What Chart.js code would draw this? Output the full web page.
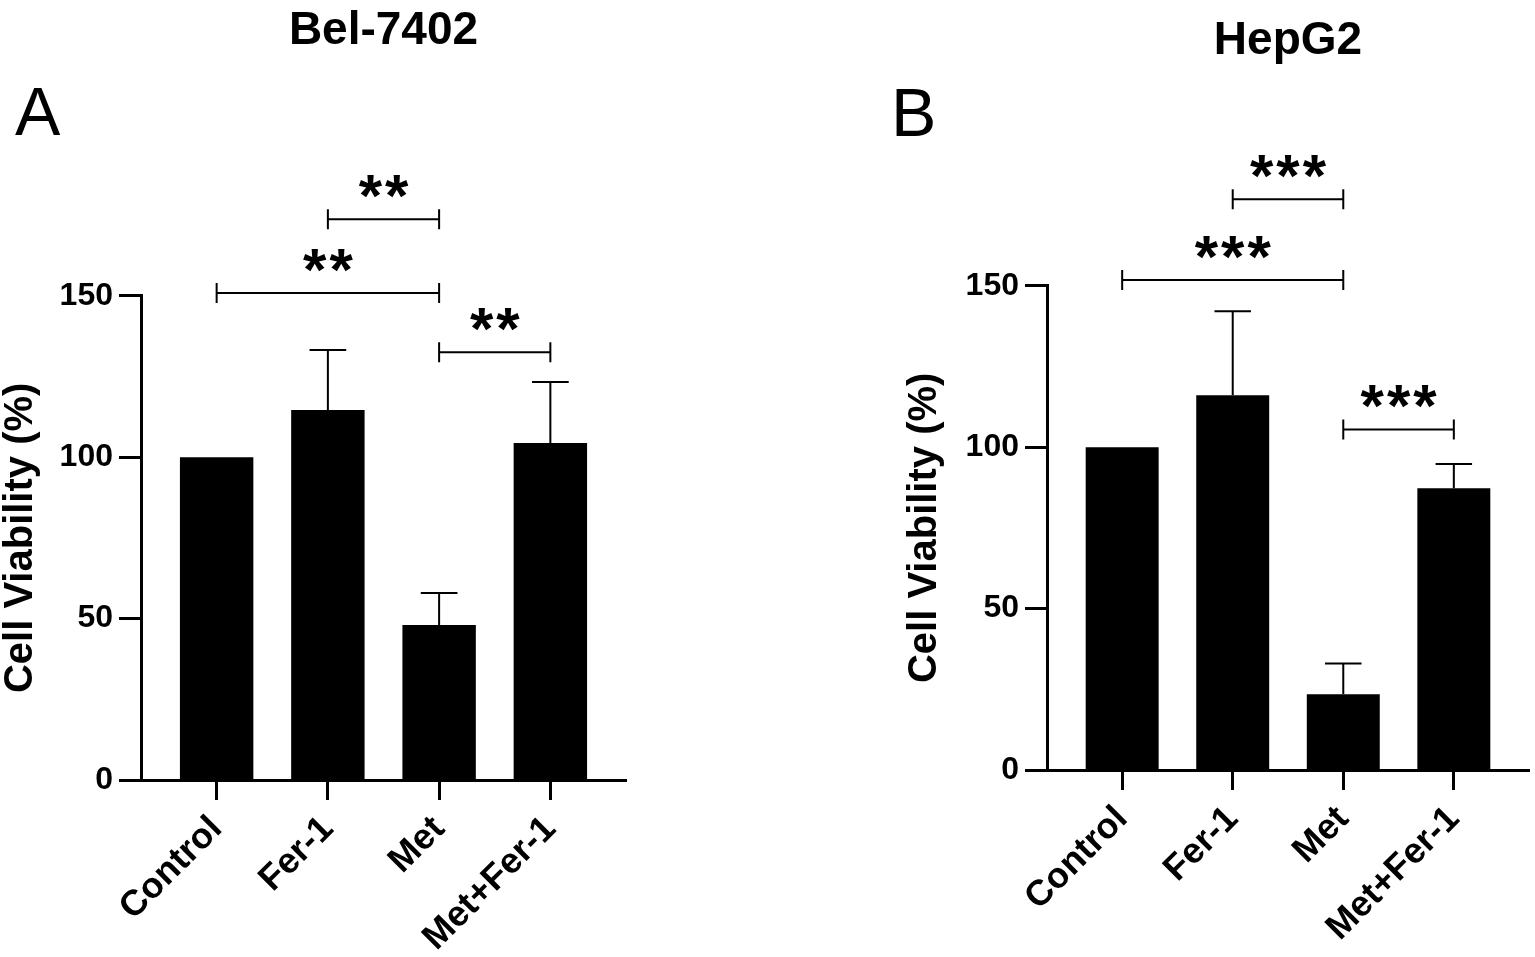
<!DOCTYPE html>
<html><head><meta charset="utf-8">
<script src="https://cdn.jsdelivr.net/npm/chart.js@4.4.1/dist/chart.umd.min.js"></script>
<style>
html,body{margin:0;padding:0;background:#fff;width:1535px;height:957px;overflow:hidden;}
.panel{position:absolute;top:0;height:957px;}
#wrapA{left:0;width:760px;}
#wrapB{left:880px;width:655px;}
.letter{position:absolute;font-family:'Liberation Sans',Arial,sans-serif;font-size:68px;line-height:1;color:#000;}
</style></head><body>
<div class="panel" id="wrapA"><canvas id="chartA"></canvas></div>
<div class="panel" id="wrapB"><canvas id="chartB"></canvas></div>
<div class="letter" style="left:15px;top:77px">A</div>
<div class="letter" style="left:891px;top:78px">B</div>
<script>
const categories = ['Control', 'Fer-1', 'Met', 'Met+Fer-1'];
const yAxisTitle = 'Cell Viability (%)';

const titleA = 'Bel-7402';
const meanA = [100, 114.6, 48.0, 104.4];
const errA = [0, 18.6, 9.9, 18.9];
const sigFromA = [1, 0, 2];
const sigToA = [2, 2, 3];
const sigLevelA = [173.7, 150.8, 132.5];
const sigLabelA = ['**', '**', '**'];

const titleB = 'HepG2';
const meanB = [100, 116.1, 23.5, 87.3];
const errB = [0, 26.0, 9.5, 7.5];
const sigFromB = [1, 0, 2];
const sigToB = [2, 2, 3];
const sigLevelB = [176.8, 151.8, 105.5];
const sigLabelB = ['***', '***', '***'];

const FAMILY = "'Liberation Sans', Arial, sans-serif";

function annotPlugin(mean, err, sigFrom, sigTo, sigLevel, sigLabel) {
  return {
    id: 'annot',
    afterDatasetsDraw(chart) {
      const ctx = chart.ctx, xs = chart.scales.x, ys = chart.scales.y;
      const bars = chart.getDatasetMeta(0).data;
      ctx.save();
      ctx.strokeStyle = '#000';
      ctx.fillStyle = '#000';
      ctx.lineWidth = 2;
      mean.forEach((m, i) => {
        if (!err[i]) return;
        const x = xs.getPixelForValue(i);
        const y0 = ys.getPixelForValue(m);
        const y1 = ys.getPixelForValue(m + err[i]);
        const half = bars[i].width / 4;
        ctx.beginPath();
        ctx.moveTo(x, y0); ctx.lineTo(x, y1);
        ctx.moveTo(x - half, y1); ctx.lineTo(x + half, y1);
        ctx.stroke();
      });
      sigFrom.forEach((f, k) => {
        const x1 = xs.getPixelForValue(f);
        const x2 = xs.getPixelForValue(sigTo[k]);
        const y = ys.getPixelForValue(sigLevel[k]);
        ctx.lineWidth = 2;
        ctx.beginPath();
        ctx.moveTo(x1, y); ctx.lineTo(x2, y);
        ctx.moveTo(x1, y - 10); ctx.lineTo(x1, y + 10);
        ctx.moveTo(x2, y - 10); ctx.lineTo(x2, y + 10);
        ctx.stroke();
        ctx.font = 'bold 60px ' + FAMILY;
        ctx.textAlign = 'center';
        ctx.textBaseline = 'alphabetic';
        ctx.letterSpacing = '3px';
        ctx.fillText(sigLabel[k], (x1 + x2) / 2 + 1.5, y - 3);
      });
      ctx.restore();
    }
  };
}

function makeChart(id, title, mean, err, sigFrom, sigTo, sigLevel, sigLabel, L) {
  return new Chart(document.getElementById(id), {
    type: 'bar',
    data: {
      datasets: [{
        data: mean.map((v, i) => ({ x: i, y: v })),
        backgroundColor: '#000',
        borderWidth: 0,
        barPercentage: 0.66,
        categoryPercentage: 1
      }]
    },
    options: {
      responsive: true,
      maintainAspectRatio: false,
      animation: false,
      layout: { padding: { left: 0, right: L.padRight, top: 0, bottom: 0 } },
      plugins: {
        legend: { display: false },
        tooltip: { enabled: false },
        title: {
          display: true, text: title, fullSize: false, color: '#000',
          font: { family: FAMILY, size: 46, weight: 'bold' },
          padding: { top: L.titleTop, bottom: L.titleBottom }
        }
      },
      scales: {
        x: {
          type: 'linear', min: -0.68, max: 3.68, offset: false,
          grid: { display: true, offset: false, drawOnChartArea: false, drawTicks: true, tickLength: 20, tickWidth: 3, tickColor: '#000' },
          border: { display: true, color: '#000', width: 3 },
          ticks: {
            stepSize: 1, includeBounds: false, autoSkip: false,
            maxRotation: 45, minRotation: 45, padding: 8, color: '#000',
            font: { family: FAMILY, size: 36, weight: 'bold' },
            callback: (v) => (Number.isInteger(v) && categories[v] !== undefined) ? categories[v] : ''
          },
          afterFit(s) { s.height = L.xHeight; s.paddingLeft = 0; s.paddingRight = 0; }
        },
        y: {
          min: 0, max: 150,
          grid: { display: true, drawOnChartArea: false, drawTicks: true, tickLength: 22, tickWidth: 3, tickColor: '#000' },
          border: { display: true, color: '#000', width: 3 },
          ticks: {
            stepSize: 50, padding: 6, color: '#000',
            font: { family: FAMILY, size: 32, weight: 'bold' }
          },
          title: {
            display: true, text: yAxisTitle, color: '#000',
            font: { family: FAMILY, size: 40, weight: 'bold', lineHeight: 1 },
            padding: { top: L.yTitlePad, bottom: 0 }
          },
          afterFit(s) { s.width = L.yWidth; s.paddingTop = 0; s.paddingBottom = 0; }
        }
      }
    },
    plugins: [annotPlugin(mean, err, sigFrom, sigTo, sigLevel, sigLabel)]
  });
}

makeChart('chartA', titleA, meanA, errA, sigFromA, sigToA, sigLevelA, sigLabelA,
  { padRight: 134, titleTop: 4, titleBottom: 236.5, xHeight: 177, yWidth: 141, yTitlePad: 1 });
makeChart('chartB', titleB, meanB, errB, sigFromB, sigToB, sigLevelB, sigLabelB,
  { padRight: 6, titleTop: 14, titleBottom: 216.5, xHeight: 187, yWidth: 167, yTitlePad: 25 });
</script>
</body></html>
